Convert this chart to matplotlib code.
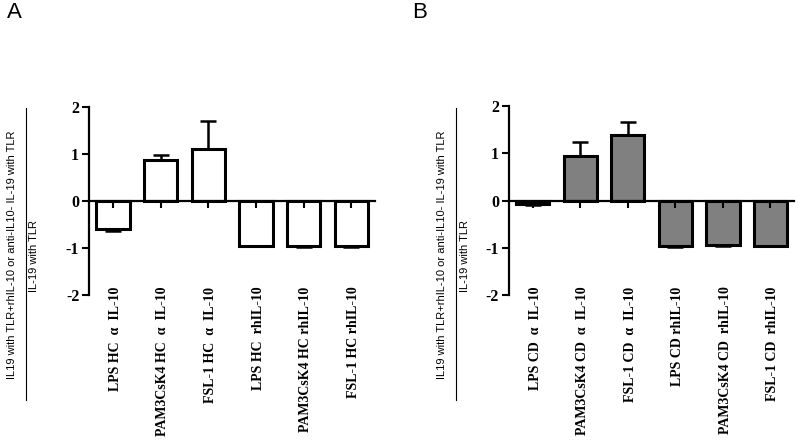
import matplotlib.pyplot as plt
from matplotlib.lines import Line2D
from matplotlib.transforms import blended_transform_factory

# panel A (HC) and panel B (CD)
labels_a = ['LPS HC  α  IL-10', 'PAM3CsK4 HC  α  IL-10', 'FSL-1 HC  α  IL-10',
            'LPS HC  rhIL-10', 'PAM3CsK4 HC rhIL-10', 'FSL-1 HC rhIL-10']
values_a = [-0.60, 0.88, 1.10, -0.95, -0.96, -0.96]
errors_a = [0.03, 0.10, 0.60, 0.01, 0.01, 0.01]

labels_b = ['LPS CD  α  IL-10', 'PAM3CsK4 CD  α  IL-10', 'FSL-1 CD  α  IL-10',
            'LPS CD rhIL-10', 'PAM3CsK4 CD  rhIL-10', 'FSL-1 CD  rhIL-10']
values_b = [-0.07, 0.95, 1.38, -0.97, -0.95, -0.96]
errors_b = [0.03, 0.28, 0.28, 0.01, 0.01, 0.01]

yticks = [-2, -1, 0, 1, 2]

serif_bold = dict(family='Liberation Serif', weight='bold')

fig = plt.figure(figsize=(7.99, 4.43), dpi=100)


def draw_panel(rect, labels, values, errors, color):
    ax = fig.add_axes(rect)
    x = range(len(values))
    lower = [e if v < 0 else 0 for v, e in zip(values, errors)]
    upper = [e if v >= 0 else 0 for v, e in zip(values, errors)]
    ax.bar(x, values, width=0.7, color=color, edgecolor='black', linewidth=2.2, zorder=2)
    ax.errorbar(x, values, yerr=[lower, upper], fmt='none', ecolor='black',
                elinewidth=1.8, capsize=6, capthick=1.8, zorder=1)
    ax.set_axisbelow(False)  # x ticks drawn over the bars
    ax.set_xlim(-0.5, len(values) - 0.5)
    ax.set_ylim(-2, 2)
    ax.set_yticks(yticks)
    ax.set_yticklabels([str(t) for t in yticks], fontsize=11.5, **serif_bold)
    for s in ['top', 'right']:
        ax.spines[s].set_visible(False)
    ax.spines['bottom'].set_position(('data', 0))
    ax.spines['left'].set_bounds(-2, 2)
    for s in ['left', 'bottom']:
        ax.spines[s].set_linewidth(1.6)
        ax.spines[s].set_zorder(3)
    ax.set_xticks(list(x))
    ax.set_xticklabels([])
    ax.tick_params(axis='x', direction='out', length=5, width=1.5)
    ax.tick_params(axis='y', direction='out', length=5, width=1.5, pad=2)
    trans = blended_transform_factory(ax.transData, ax.transData)
    for i, lab in enumerate(labels):
        ax.text(i + 0.05, -1.82, lab, rotation=90, ha='center', va='top',
                fontsize=10, transform=trans, clip_on=False, **serif_bold)
    return ax


draw_panel([0.1114, 0.334, 0.358, 0.4244], labels_a, values_a, errors_a, 'white')
draw_panel([0.637, 0.334, 0.357, 0.4267], labels_b, values_b, errors_b, '#808080')

# y-axis labels written as a fraction
ylab_top = 'IL19 with TLR+rhIL-10 or anti-IL10- IL-19 with TLR'
ylab_bottom = 'IL-19 with TLR'
for x_top, x_line, x_bottom in [(12, 26, 34), (442, 456, 465)]:
    fig.text(x_top / 799, 1 - 255 / 443, ylab_top, rotation=90, ha='center', va='center',
             fontsize=8, family='Liberation Sans')
    fig.text(x_bottom / 799, 1 - 256 / 443, ylab_bottom, rotation=90, ha='center', va='center',
             fontsize=8, family='Liberation Sans')
    fig.add_artist(Line2D([x_line / 799, x_line / 799], [1 - 108 / 443, 1 - 400 / 443],
                          color='black', linewidth=0.8))

fig.text(14 / 799, 1 - 12 / 443, 'A', fontsize=16, ha='center', va='center', family='Liberation Sans')
fig.text(420 / 799, 1 - 12 / 443, 'B', fontsize=16, ha='center', va='center', family='Liberation Sans')

plt.savefig('out.png', dpi=100)
